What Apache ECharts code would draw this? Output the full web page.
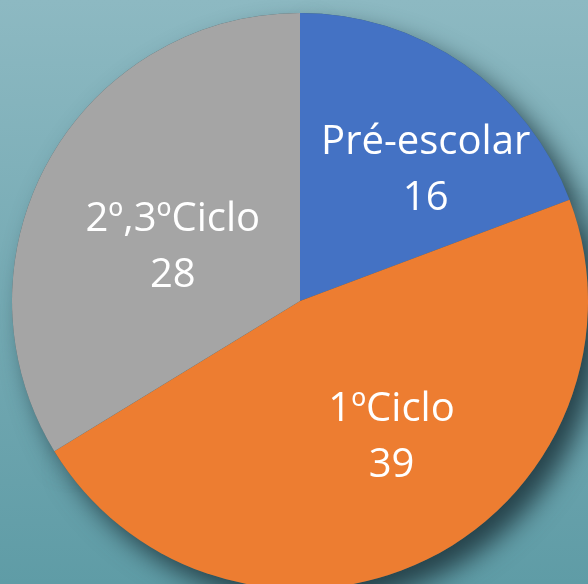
<!DOCTYPE html>
<html>
<head>
<meta charset="utf-8">
<script src="https://cdn.jsdelivr.net/npm/echarts@6/dist/echarts.min.js"></script>
<style>
  html, body { margin: 0; padding: 0; }
  #chart { width: 588px; height: 584px; }
</style>
</head>
<body>
<div id="chart"></div>
<script>
// data
const categories = ['Pré-escolar', '1ºCiclo', '2º,3ºCiclo']
const values = [16, 39, 28]
const colors = ['#4472C4', '#ED7D31', '#A5A5A5']
// label nudges (px) so the labels sit where Excel put them
const labelNudge = [[42, -10], [27, 5], [1, 18]]

const chart = echarts.init(document.getElementById('chart'))

const pieData = categories.map((name, i) => ({
  name: name,
  value: values[i],
  itemStyle: { color: colors[i] },
  label: { offset: labelNudge[i] }
}))

chart.setOption({
  animation: false,
  backgroundColor: new echarts.graphic.LinearGradient(0, 0, 0, 1, [
    { offset: 0, color: '#8DB9C2' },
    { offset: 1, color: '#5F9CA6' }
  ]),
  series: [
    { // shadow under the pie
      type: 'pie',
      silent: true,
      center: [300, 301],
      radius: 288,
      startAngle: 90,
      z: 1,
      label: { show: false },
      labelLine: { show: false },
      itemStyle: {
        color: '#3D626A',
        shadowColor: 'rgba(38, 66, 74, 1)',
        shadowBlur: 26,
        shadowOffsetX: 13,
        shadowOffsetY: 15
      },
      data: values.map((v, i) => ({ name: categories[i], value: v }))
    },
    {
      type: 'pie',
      center: [300, 301],
      radius: 288,
      startAngle: 90,
      z: 2,
      itemStyle: { borderWidth: 0 },
      label: {
        show: true,
        position: 'inside',
        color: '#ffffff',
        fontFamily: 'Open Sans',
        fontSize: 40,
        lineHeight: 56,
        formatter: '{b}\n{c}'
      },
      labelLine: { show: false },
      data: pieData
    }
  ]
})
</script>
</body>
</html>
